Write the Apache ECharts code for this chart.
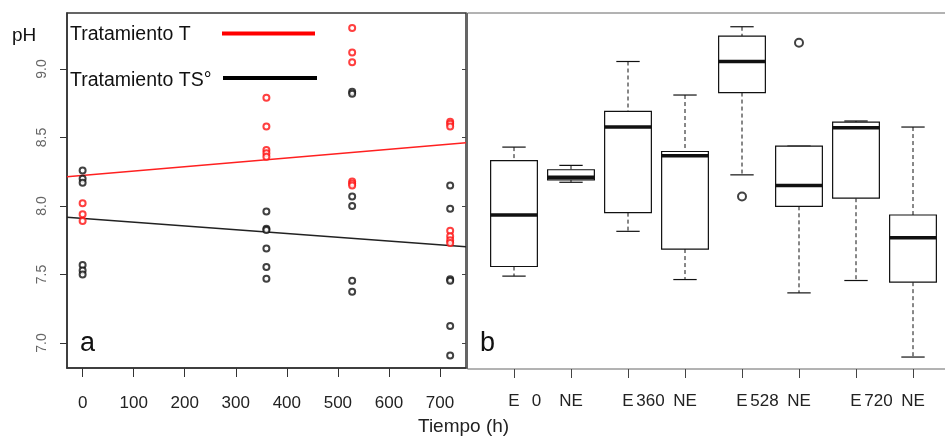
<!DOCTYPE html>
<html><head><meta charset="utf-8">
<script src="https://cdn.jsdelivr.net/npm/echarts@6/dist/echarts.min.js"></script>
<style>html,body{margin:0;padding:0;background:#fff}#c{width:945px;height:439px}</style>
</head><body><div id="c"></div>
<script>
const FONT = '"Liberation Sans", Arial, sans-serif';

// Panel a: scatter + trend lines
const xTicks = [0, 100, 200, 300, 400, 500, 600, 700];
const yTicks = [7.0, 7.5, 8.0, 8.5, 9.0];
const timeT = [0, 0, 0, 360, 360, 360, 360, 360, 528, 528, 528, 528, 528, 528, 720, 720, 720, 720, 720, 720, 720];
const phT   = [8.02, 7.94, 7.89, 8.79, 8.58, 8.41, 8.385, 8.36, 9.30, 9.12, 9.05, 8.18, 8.165, 8.15, 8.615, 8.60, 8.58, 7.82, 7.78, 7.75, 7.73];
const timeTS = [0, 0, 0, 0, 0, 0, 360, 360, 360, 360, 360, 360, 528, 528, 528, 528, 528, 528, 720, 720, 720, 720, 720, 720];
const phTS   = [8.26, 8.20, 8.17, 7.57, 7.53, 7.50, 7.96, 7.835, 7.825, 7.69, 7.555, 7.47, 8.835, 8.82, 8.07, 8.00, 7.455, 7.375, 8.15, 7.98, 7.465, 7.455, 7.125, 6.91];
const fitT  = [8.224, 0.000317];   // intercept, slope
const fitTS = [7.910, -0.000275];

// Panel b: boxplots
const boxCats  = ['E|0', 'NE|0', 'E|360', 'NE|360', 'E|528', 'NE|528', 'E|720', 'NE|720'];
const boxTimes = ['0', '360', '528', '720'];
const boxMin = [7.494, 8.177, 7.820, 7.469, 8.231, 7.372, 7.462, 6.905];
const boxQ1  = [7.564, 8.195, 7.956, 7.691, 8.830, 8.002, 8.061, 7.450];
const boxMed = [7.939, 8.214, 8.579, 8.370, 9.056, 8.153, 8.574, 7.774];
const boxQ3  = [8.334, 8.268, 8.693, 8.401, 9.241, 8.440, 8.615, 7.939];
const boxMax = [8.433, 8.300, 9.056, 8.812, 9.309, 8.440, 8.623, 8.579];
const outlierIdx = [4, 5];
const outlierPH  = [8.073, 9.192];

const Y_MIN = 6.818, Y_MAX = 9.409, X_MIN = -30.6, X_MAX = 751;

const chart = echarts.init(document.getElementById('c'), null, {renderer: 'canvas'});

const ptsT = timeT.map((t, i) => [t, phT[i]]);
const ptsTS = timeTS.map((t, i) => [t, phTS[i]]);
const lineT = [X_MIN, X_MAX].map(x => [x, fitT[0] + fitT[1] * x]);
const lineTS = [X_MIN, X_MAX].map(x => [x, fitTS[0] + fitTS[1] * x]);
const boxData = boxCats.map((c, i) => [i, boxMin[i], boxQ1[i], boxMed[i], boxQ3[i], boxMax[i]]);
const outData = outlierIdx.map((k, i) => [k, outlierPH[i]]);

function renderBox(params, api) {
  const i = api.value(0);
  const mn = api.value(1), q1 = api.value(2), md = api.value(3), q3 = api.value(4), mx = api.value(5);
  const band = api.size([1, 0])[0];
  const bw = band * 0.82, cw = bw / 2;
  const cx = api.coord([i, md])[0];
  const y = v => api.coord([i, v])[1];
  const col = '#111';
  const dash = {stroke: col, lineWidth: 1, lineDash: [4, 3]};
  const solid = {stroke: col, lineWidth: 1.2};
  return {type: 'group', children: [
    {type: 'line', shape: {x1: cx, y1: y(mx), x2: cx, y2: y(q3)}, style: dash},
    {type: 'line', shape: {x1: cx, y1: y(q1), x2: cx, y2: y(mn)}, style: dash},
    {type: 'line', shape: {x1: cx - cw / 2, y1: y(mx), x2: cx + cw / 2, y2: y(mx)}, style: solid},
    {type: 'line', shape: {x1: cx - cw / 2, y1: y(mn), x2: cx + cw / 2, y2: y(mn)}, style: solid},
    {type: 'rect', shape: {x: cx - bw / 2, y: y(q3), width: bw, height: y(q1) - y(q3)}, style: {fill: '#fff', stroke: col, lineWidth: 1.2}},
    {type: 'line', shape: {x1: cx - bw / 2, y1: y(md), x2: cx + bw / 2, y2: y(md)}, style: {stroke: col, lineWidth: 3.5}}
  ]};
}

const option = {
  backgroundColor: '#fff',
  animation: false,
  textStyle: {fontFamily: FONT},
  grid: [
    {left: 67, right: 479, top: 13, height: 355, show: true, borderColor: '#333', borderWidth: 1.5, backgroundColor: 'transparent'},
    {left: 485.5, right: 3.5, top: 13, height: 356, show: false}
  ],
  xAxis: [
    {gridIndex: 0, type: 'value', min: X_MIN, max: X_MAX, splitLine: {show: false},
     axisLine: {show: true, onZero: false, lineStyle: {color: '#333', width: 1.5}},
     axisTick: {show: true, length: 9, customValues: xTicks, lineStyle: {color: '#333'}},
     axisLabel: {customValues: xTicks, margin: 27, fontSize: 17, color: '#222', fontFamily: FONT}},
    {gridIndex: 1, type: 'category', data: boxCats, boundaryGap: true,
     axisLine: {show: false, onZero: false},
     axisTick: {show: true, alignWithLabel: true, length: 9, lineStyle: {color: '#444'}},
     axisLabel: {margin: 24, fontSize: 17, color: '#222', fontFamily: FONT, formatter: v => v.split('|')[0]}},
    {gridIndex: 1, type: 'category', data: boxTimes, boundaryGap: true, position: 'bottom',
     axisLine: {show: false, onZero: false}, axisTick: {show: false},
     axisLabel: {margin: 24, fontSize: 17, color: '#222', fontFamily: FONT, padding: [0, 12, 0, 0]}}
  ],
  yAxis: [
    {gridIndex: 0, type: 'value', min: Y_MIN, max: Y_MAX, splitLine: {show: false},
     axisLine: {show: true, onZero: false, lineStyle: {color: '#333', width: 1.5}},
     axisTick: {show: true, length: 7, customValues: yTicks, lineStyle: {color: '#333'}},
     axisLabel: {customValues: yTicks, rotate: 90, margin: 18, fontSize: 14, color: '#666', fontFamily: FONT,
                 formatter: v => Number(v).toFixed(1)}},
    {gridIndex: 0, type: 'value', position: 'right', min: Y_MIN, max: Y_MAX, splitLine: {show: false},
     axisLine: {show: false, onZero: false},
     axisTick: {show: true, inside: true, length: 4, customValues: yTicks, lineStyle: {color: '#444'}},
     axisLabel: {show: false}},
    {gridIndex: 1, type: 'value', min: Y_MIN, max: Y_MAX, show: false, splitLine: {show: false}}
  ],
  series: [
    {type: 'line', xAxisIndex: 0, yAxisIndex: 0, data: lineT, symbol: 'none', lineStyle: {color: '#ff2020', width: 1.5}, z: 2},
    {type: 'line', xAxisIndex: 0, yAxisIndex: 0, data: lineTS, symbol: 'none', lineStyle: {color: '#222', width: 1.5}, z: 2},
    {type: 'scatter', xAxisIndex: 0, yAxisIndex: 0, data: ptsTS, symbol: 'emptyCircle', symbolSize: 6,
     itemStyle: {color: '#111', borderColor: '#111', borderWidth: 1.4}, z: 3},
    {type: 'scatter', xAxisIndex: 0, yAxisIndex: 0, data: ptsT, symbol: 'emptyCircle', symbolSize: 6,
     itemStyle: {color: '#ff1010', borderColor: '#ff1010', borderWidth: 1.5}, z: 4},
    {type: 'custom', xAxisIndex: 1, yAxisIndex: 2, data: boxData, renderItem: renderBox,
     encode: {x: 0, y: [1, 2, 3, 4, 5]}, z: 2},
    {type: 'scatter', xAxisIndex: 1, yAxisIndex: 2, data: outData, symbol: 'emptyCircle', symbolSize: 8,
     itemStyle: {color: '#111', borderColor: '#111', borderWidth: 1.3}, z: 3}
  ],
  graphic: [
    {type: 'rect', shape: {x: 467.5, y: 13, width: 480, height: 356}, style: {fill: 'none', stroke: '#666', lineWidth: 1}, z: -1, silent: true},
    {type: 'text', left: 12, top: 26, style: {text: 'pH', fontSize: 19, fill: '#111', fontFamily: FONT}},
    {type: 'text', left: 70, top: 25, style: {text: 'Tratamiento T', fontSize: 19.5, fill: '#111', fontFamily: FONT}},
    {type: 'line', shape: {x1: 222, y1: 33.5, x2: 315, y2: 33.5}, style: {stroke: '#ff0000', lineWidth: 4}},
    {type: 'text', left: 70, top: 71, style: {text: 'Tratamiento TS°', fontSize: 19.5, fill: '#111', fontFamily: FONT}},
    {type: 'line', shape: {x1: 223, y1: 78, x2: 317, y2: 78}, style: {stroke: '#000', lineWidth: 4}},
    {type: 'text', left: 80, top: 330, style: {text: 'a', fontSize: 27, fill: '#111', fontFamily: FONT}},
    {type: 'text', left: 480, top: 330, style: {text: 'b', fontSize: 27, fill: '#111', fontFamily: FONT}},
    {type: 'text', left: 418, top: 417, style: {text: 'Tiempo (h)', fontSize: 19, fill: '#222', fontFamily: FONT}}
  ]
};
chart.setOption(option);
</script>
</body></html>
